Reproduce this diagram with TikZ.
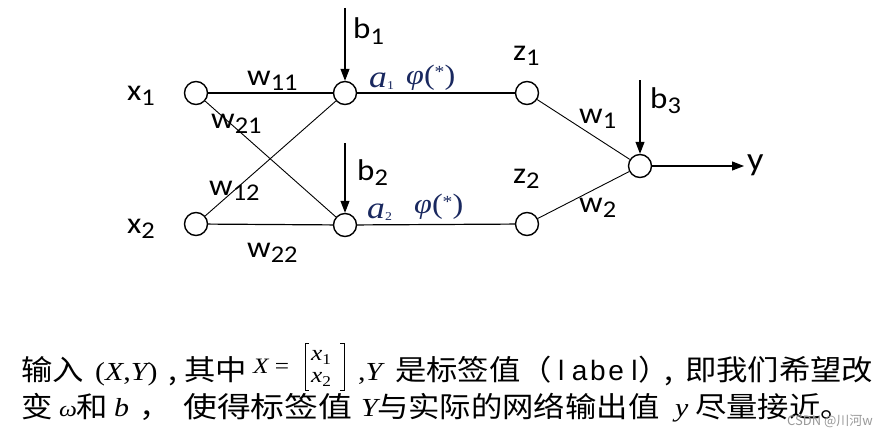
\documentclass[tikz,border=0pt]{standalone}
\usepackage{fontspec}
\usepackage{graphicx}
\setmainfont{Carlito}
\newfontfamily\cjk{Noto Sans CJK SC}
\newfontfamily\tms{Liberation Serif}
\newfontfamily\lsans{Liberation Sans}
\usetikzlibrary{arrows.meta}
\definecolor{navy}{RGB}{25,40,95}
\newcommand\sbs[1]{\raisebox{-5.5pt}{\fontsize{24}{24}\selectfont #1}}
\newcommand\lab[2]{\scalebox{1.1}[1]{\fontsize{30}{30}\selectfont #1\sbs{#2}}}
\newcommand\zx[1]{\scalebox{1.1}[1]{\cjk\fontsize{28.5}{28.5}\selectfont #1}}
\newcommand\ms[2][26]{\scalebox{1.15}[1]{\tms\fontsize{#1}{#1}\selectfont #2}}
\newcommand\mc[1]{\makebox[18.3pt]{#1}}
\newcommand\tsub[1]{\raisebox{-4pt}{\fontsize{15}{15}\selectfont\upshape #1}}
\begin{document}
\begin{tikzpicture}[x=1pt,y=-1pt,
  neuron/.style={circle,draw,minimum size=23pt,inner sep=0pt,line width=1.4pt},
  conn/.style={line width=0.9pt},
  hconn/.style={line width=1.2pt},
  arr/.style={-{Triangle[length=12pt,width=9pt]},line width=1.1pt},
  lbl/.style={inner sep=0pt,anchor=base west},
  greek/.style={inner sep=0pt,anchor=base west,text=navy},
  brk/.style={line width=1pt}]
\fill[white] (0,0) rectangle (890,436);
% neurons
\node[neuron] (x1) at (196,93) {};
\node[neuron] (x2) at (196,224) {};
\node[neuron] (h1) at (345,93) {};
\node[neuron] (h2) at (345,225) {};
\node[neuron] (z1) at (527,93) {};
\node[neuron] (z2) at (527,224) {};
\node[neuron] (o) at (640,166) {};
\coordinate (b1s) at (345,8);
\coordinate (b2s) at (345,143);
\coordinate (b3s) at (640,80);
\coordinate (ye) at (744,166);
% connectors
\draw[hconn] (x1) -- (h1);
\draw[conn] (x1) -- (h2);
\draw[conn] (x2) -- (h1);
\draw[hconn] (x2) -- (h2);
\draw[hconn] (h1) -- (z1);
\draw[hconn] (h2) -- (z2);
\draw[conn] (z1) -- (o);
\draw[conn] (z2) -- (o);
\draw[arr] (b1s) -- (h1);
\draw[arr] (b2s) -- (h2);
\draw[arr] (b3s) -- (o);
\draw[arr] (o) -- (ye);
% labels
\node[lbl] (lx1) at (127,100) {\lab{x}{1}};
\node[lbl] (lx2) at (127,233) {\lab{x}{2}};
\node[lbl] (lb1) at (353,39) {\lab{b}{1}};
\node[lbl] (lb2) at (357,180) {\lab{b}{2}};
\node[lbl] (lb3) at (650,108) {\lab{b}{3}};
\node[lbl] (lz1) at (513,60) {\lab{z}{1}};
\node[lbl] (lz2) at (513,183) {\lab{z}{2}};
\node[lbl] (lw11) at (247,85) {\lab{w}{11}};
\node[lbl] (lw21) at (211,128) {\lab{w}{21}};
\node[lbl] (lw12) at (209,195) {\lab{w}{12}};
\node[lbl] (lw22) at (247,257) {\lab{w}{22}};
\node[lbl] (lw1) at (579,123) {\lab{w}{1}};
\node[lbl] (lw2) at (579,212) {\lab{w}{2}};
\node[lbl] (ly) at (747,170) {\scalebox{1.1}[1]{\fontsize{33}{33}\selectfont y}};
\node[greek] (a1) at (369,87) {\ms[31]{\itshape a\raisebox{-2pt}{\fontsize{12}{12}\selectfont\upshape 1}}};
\node[greek] (f1) at (406,84) {\ms[28]{\itshape φ\upshape(\raisebox{6pt}{\fontsize{17}{17}\selectfont *})}};
\node[greek] (a2) at (367,218) {\ms[31]{\itshape a\raisebox{-2pt}{\fontsize{12}{12}\selectfont\upshape 2}}};
\node[greek] (f2) at (414,213) {\ms[28]{\itshape φ\upshape(\raisebox{6pt}{\fontsize{17}{17}\selectfont *})}};
% bottom text line 1
\node[lbl] (t1) at (21,380) {\zx{输入}};
\node[lbl] (t2) at (95,380) {\ms{(\itshape X\upshape,\itshape Y\upshape)}};
\node[lbl] (t3) at (168,380) {\zx{,}};
\node[lbl] (t4) at (184,380) {\zx{其中}};
\node[lbl] (t5) at (253,373) {\ms[22]{\itshape X\upshape\ =}};
\node[lbl] (m1) at (311,360) {\ms[22]{\itshape x\tsub{1}}};
\node[lbl] (m2) at (311,382) {\ms[22]{\itshape x\tsub{2}}};
\draw[brk] (309,343) -- (305,343) -- (305,390) -- (309,390);
\draw[brk] (340,343) -- (344,343) -- (344,390) -- (340,390);
\node[lbl] (t6) at (358,380) {\ms{,\itshape Y}};
\node[lbl] (t7) at (395,380) {\zx{是标签值（}};
\node[lbl] (t8) at (552,380) {\lsans\fontsize{28}{28}\selectfont\mc{l}\mc{a}\mc{b}\mc{e}\mc{l}};
\node[lbl] (t9) at (638,380) {\zx{）}};
\node[lbl] (t10) at (664,380) {\zx{,}};
\node[lbl] (t11) at (685,380) {\zx{即我们希望改}};
% line 2
\node[lbl] (u1) at (21,417) {\zx{变}};
\node[lbl] (u2) at (59,416) {\ms[22]{\itshape ω}};
\node[lbl] (u3) at (76,417) {\zx{和}};
\node[lbl] (u4) at (114,416) {\ms{\itshape b}};
\node[lbl] (u5) at (139,417) {\zx{，}};
\node[lbl] (u6) at (183,417) {\scalebox{1.08}[1]{\zx{使得标签值}}};
\node[lbl] (u7) at (361,416) {\ms{\itshape Y}};
\node[lbl] (u8) at (377,417) {\zx{与实际的网络输出值}};
\node[lbl] (u9) at (675,416) {\ms{\itshape y}};
\node[lbl] (u10) at (695,417) {\zx{尽量接近。}};
\node[lbl,text=black!40,font=\cjk\fontsize{13}{13}\selectfont] (wm) at (787,425) {CSDN @川河w};
\end{tikzpicture}
\end{document}
